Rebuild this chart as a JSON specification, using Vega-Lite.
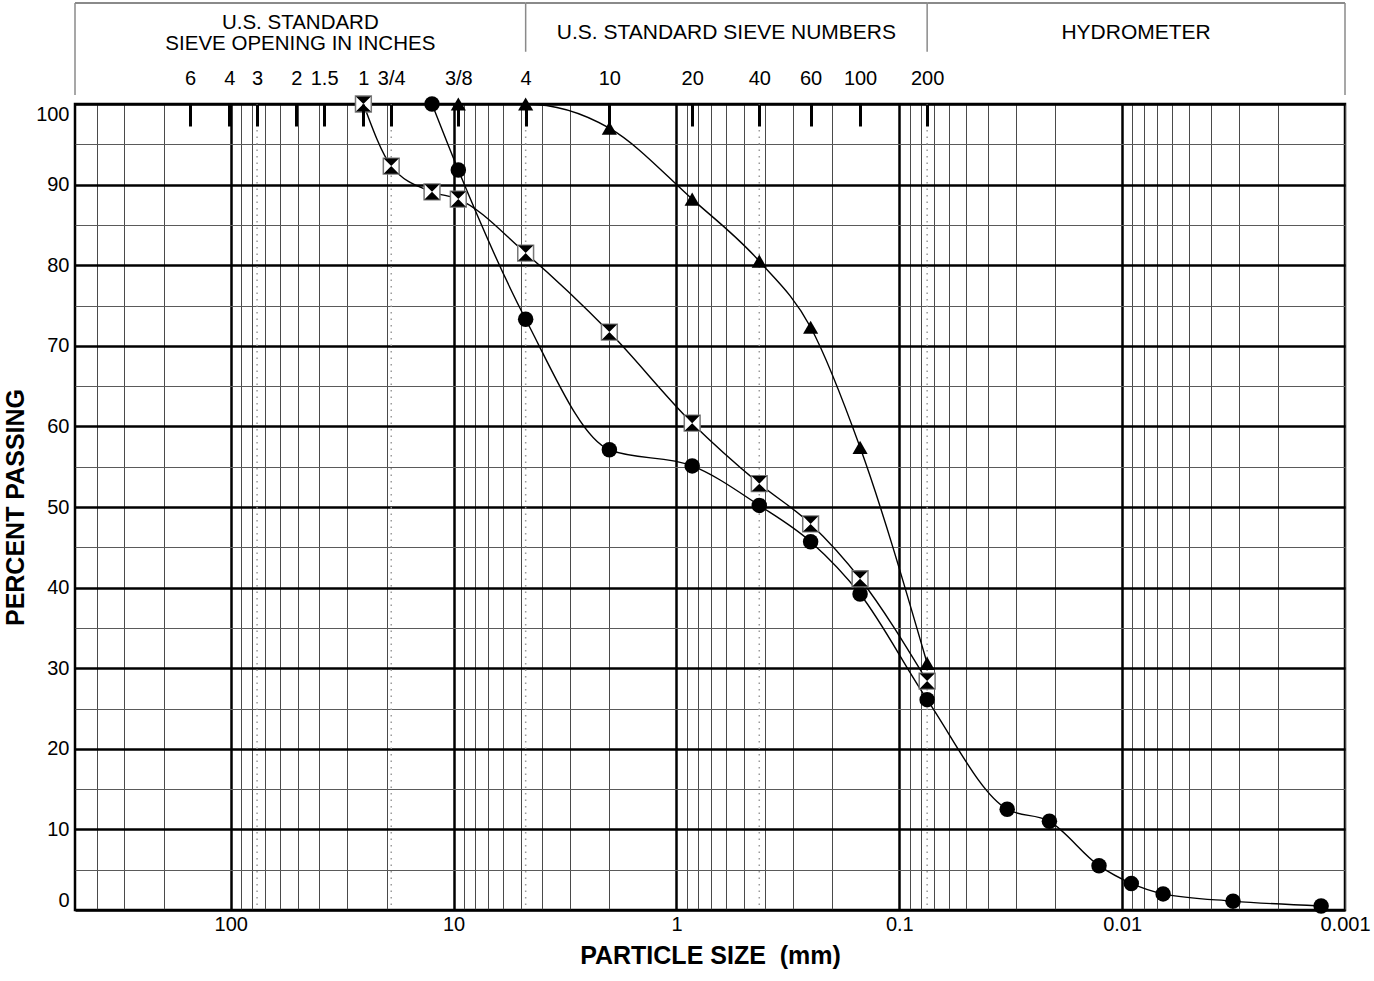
{
  "$schema": "https://vega.github.io/schema/vega-lite/v6.json",
  "background": "white",
  "padding": {"left": 2, "top": 2, "right": 5, "bottom": 5},
  "config": {"font": "Liberation Sans", "view": {"stroke": null}},
  "bounds": "flush",
  "spacing": 9,
  "datasets": {
    "series": [
      {"sample": "A", "size": 12.5, "pct": 100},
      {"sample": "A", "size": 9.525, "pct": 91.8},
      {"sample": "A", "size": 4.75, "pct": 73.3},
      {"sample": "A", "size": 2.0, "pct": 57.1},
      {"sample": "A", "size": 0.85, "pct": 55.1},
      {"sample": "A", "size": 0.425, "pct": 50.2},
      {"sample": "A", "size": 0.25, "pct": 45.7},
      {"sample": "A", "size": 0.15, "pct": 39.2},
      {"sample": "A", "size": 0.075, "pct": 26.1},
      {"sample": "A", "size": 0.0328, "pct": 12.5},
      {"sample": "A", "size": 0.0212, "pct": 11.0},
      {"sample": "A", "size": 0.0127, "pct": 5.5},
      {"sample": "A", "size": 0.0091, "pct": 3.3},
      {"sample": "A", "size": 0.00655, "pct": 2.0},
      {"sample": "A", "size": 0.00318, "pct": 1.1},
      {"sample": "A", "size": 0.00128, "pct": 0.5},
      {"sample": "B", "size": 25.4, "pct": 100},
      {"sample": "B", "size": 19.05, "pct": 92.3},
      {"sample": "B", "size": 12.5, "pct": 89.1},
      {"sample": "B", "size": 9.525, "pct": 88.2},
      {"sample": "B", "size": 4.75, "pct": 81.5},
      {"sample": "B", "size": 2.0, "pct": 71.7},
      {"sample": "B", "size": 0.85, "pct": 60.4},
      {"sample": "B", "size": 0.425, "pct": 52.9},
      {"sample": "B", "size": 0.25, "pct": 47.9},
      {"sample": "B", "size": 0.15, "pct": 41.1},
      {"sample": "B", "size": 0.075, "pct": 28.4},
      {"sample": "C", "size": 9.525, "pct": 100},
      {"sample": "C", "size": 4.75, "pct": 100},
      {"sample": "C", "size": 2.0, "pct": 97.0},
      {"sample": "C", "size": 0.85, "pct": 88.2},
      {"sample": "C", "size": 0.425, "pct": 80.5},
      {"sample": "C", "size": 0.25, "pct": 72.3},
      {"sample": "C", "size": 0.15, "pct": 57.4},
      {"sample": "C", "size": 0.075, "pct": 30.6}
    ],
    "boundaries": [
      {"size": 76.2}, {"size": 19.05}, {"size": 4.75}, {"size": 0.425}, {"size": 0.075}
    ],
    "header": [
      {"label": "U.S. STANDARD\nSIEVE OPENING IN INCHES", "start": 500, "end": 4.75, "lines": 2},
      {"label": "U.S. STANDARD SIEVE NUMBERS", "start": 4.75, "end": 0.075, "lines": 1},
      {"label": "HYDROMETER", "start": 0.075, "end": 0.001, "lines": 1}
    ],
    "dividers": [{"b": 4.75}, {"b": 0.075}],
    "edges": [{"b": 500}, {"b": 0.001}]
  },
  "vconcat": [
    {
      "width": 1270,
      "height": 92,
      "view": {"stroke": null},
      "layer": [
        {
          "data": {"name": "header"},
          "mark": {"type": "rule", "color": "#8a8a8a", "strokeWidth": 2},
          "encoding": {
            "x": {"field": "start", "type": "quantitative", "scale": {"type": "log", "domain": [0.001, 500], "reverse": true, "nice": false}, "axis": null},
            "x2": {"field": "end"},
            "y": {"datum": 1, "type": "quantitative", "scale": {"domain": [0, 1], "nice": false}, "axis": null}
          }
        },
        {
          "data": {"name": "dividers"},
          "mark": {"type": "rule", "color": "#8a8a8a", "strokeWidth": 1.5},
          "encoding": {
            "x": {"field": "b", "type": "quantitative", "scale": {"type": "log", "domain": [0.001, 500], "reverse": true, "nice": false}, "axis": null},
            "y": {"datum": 1, "type": "quantitative", "scale": {"domain": [0, 1], "nice": false}, "axis": null},
            "y2": {"datum": 0.47}
          }
        },
        {
          "data": {"name": "edges"},
          "mark": {"type": "rule", "color": "#8a8a8a", "strokeWidth": 1.5},
          "encoding": {
            "x": {"field": "b", "type": "quantitative", "scale": {"type": "log", "domain": [0.001, 500], "reverse": true, "nice": false}, "axis": null}
          }
        },
        {
          "data": {"name": "header"},
          "transform": [
            {"filter": "datum.lines === 1"},
            {"calculate": "sqrt(datum.start * datum.end)", "as": "mid"}
          ],
          "mark": {"type": "text", "fontSize": 21, "baseline": "middle", "align": "center", "color": "black"},
          "encoding": {
            "x": {"field": "mid", "type": "quantitative", "scale": {"type": "log", "domain": [0.001, 500], "reverse": true, "nice": false}, "axis": null},
            "y": {"datum": 0.67, "type": "quantitative", "scale": {"domain": [0, 1], "nice": false}, "axis": null},
            "text": {"field": "label"}
          }
        },
        {
          "data": {"name": "header"},
          "transform": [
            {"filter": "datum.lines === 2"},
            {"calculate": "sqrt(datum.start * datum.end)", "as": "mid"}
          ],
          "mark": {"type": "text", "fontSize": 20.5, "lineBreak": "\n", "lineHeight": 21, "baseline": "middle", "align": "center", "color": "black"},
          "encoding": {
            "x": {"field": "mid", "type": "quantitative", "scale": {"type": "log", "domain": [0.001, 500], "reverse": true, "nice": false}, "axis": null},
            "y": {"datum": 0.785, "type": "quantitative", "scale": {"domain": [0, 1], "nice": false}, "axis": null},
            "text": {"field": "label"}
          }
        }
      ]
    },
    {
      "width": 1270,
      "height": 806,
      "view": {"stroke": "black", "strokeWidth": 2.5},
      "resolve": {"axis": {"x": "independent", "y": "independent"}},
      "layer": [
        {
          "data": {"name": "boundaries"},
          "mark": {"type": "rule", "color": "#9a9a9a", "strokeWidth": 1.5, "strokeDash": [1.5, 5]},
          "encoding": {
            "x": {
              "field": "size", "type": "quantitative",
              "scale": {"type": "log", "domain": [0.001, 500], "reverse": true, "nice": false},
              "axis": {
                "orient": "top",
                "values": [152.4, 101.6, 76.2, 50.8, 38.1, 25.4, 19.05, 9.525, 4.75, 2, 0.85, 0.425, 0.25, 0.15, 0.075],
                "labelExpr": "['6','4','3','2','1.5','1','3/4','3/8','4','10','20','40','60','100','200'][indexof([152.4, 101.6, 76.2, 50.8, 38.1, 25.4, 19.05, 9.525, 4.75, 2, 0.85, 0.425, 0.25, 0.15, 0.075], datum.value)]",
                "grid": false, "domain": false, "ticks": true,
                "tickSize": -22, "tickWidth": 3, "tickColor": "black",
                "labelFontSize": 20, "labelColor": "black", "labelPadding": 38,
                "labelOverlap": false, "labelFlush": false, "title": null, "zindex": 1
              }
            }
          }
        },
        {
          "data": {"name": "series"},
          "mark": {"type": "line", "interpolate": "monotone", "color": "black", "strokeWidth": 1.4},
          "encoding": {
            "x": {
              "field": "size", "type": "quantitative",
              "scale": {"type": "log", "domain": [0.001, 500], "reverse": true, "nice": false},
              "axis": {
                "orient": "bottom",
                "values": [400, 300, 200, 100, 90, 80, 70, 60, 50, 40, 30, 20, 10, 9, 8, 7, 6, 5, 4, 3, 2, 1, 0.9, 0.8, 0.7, 0.6, 0.5, 0.4, 0.3, 0.2, 0.1, 0.09, 0.08, 0.07, 0.06, 0.05, 0.04, 0.03, 0.02, 0.01, 0.009, 0.008, 0.007, 0.006, 0.005, 0.004, 0.003, 0.002, 0.001],
                "grid": true,
                "gridColor": {"condition": {"test": "indexof([100, 10, 1, 0.1, 0.01], datum.value) >= 0", "value": "black"}, "value": "#4a4a4a"},
                "gridWidth": {"condition": {"test": "indexof([100, 10, 1, 0.1, 0.01], datum.value) >= 0", "value": 2.5}, "value": 1},
                "ticks": false, "domain": false,
                "labelExpr": "indexof([100, 10, 1, 0.1, 0.01, 0.001], datum.value) >= 0 ? format(datum.value, '~g') : ''",
                "labelFontSize": 20, "labelColor": "black", "labelPadding": 4,
                "labelOverlap": false, "labelFlush": false,
                "title": "PARTICLE SIZE\u00a0 (mm)", "titleFontSize": 25, "titleFontWeight": "bold",
                "titleColor": "black", "titlePadding": 9
              }
            },
            "y": {
              "field": "pct", "type": "quantitative",
              "scale": {"domain": [0, 100], "nice": false},
              "axis": {
                "orient": "left",
                "values": [0, 5, 10, 15, 20, 25, 30, 35, 40, 45, 50, 55, 60, 65, 70, 75, 80, 85, 90, 95, 100],
                "grid": true,
                "gridColor": {"condition": {"test": "datum.value % 10 === 0", "value": "black"}, "value": "#5a5a5a"},
                "gridWidth": {"condition": {"test": "datum.value % 10 === 0", "value": 2.5}, "value": 1},
                "ticks": false, "domain": false,
                "labelExpr": "datum.value % 10 === 0 ? datum.label : ''",
                "labelFlush": true, "labelFontSize": 20, "labelColor": "black", "labelPadding": 6,
                "title": "PERCENT PASSING", "titleFontSize": 25, "titleFontWeight": "bold",
                "titleColor": "black", "titlePadding": 7
              }
            },
            "detail": {"field": "sample"}
          }
        },
        {
          "data": {"name": "series"},
          "transform": [{"filter": "datum.sample === 'A'"}],
          "mark": {"type": "point", "shape": "circle", "filled": true, "color": "black", "size": 240, "opacity": 1},
          "encoding": {
            "x": {"field": "size", "type": "quantitative", "scale": {"type": "log", "domain": [0.001, 500], "reverse": true, "nice": false}, "axis": null},
            "y": {"field": "pct", "type": "quantitative", "scale": {"domain": [0, 100], "nice": false}, "axis": null}
          }
        },
        {
          "data": {"name": "series"},
          "transform": [{"filter": "datum.sample === 'C'"}],
          "mark": {"type": "point", "shape": "triangle-up", "filled": true, "color": "black", "size": 230, "opacity": 1},
          "encoding": {
            "x": {"field": "size", "type": "quantitative", "scale": {"type": "log", "domain": [0.001, 500], "reverse": true, "nice": false}, "axis": null},
            "y": {"field": "pct", "type": "quantitative", "scale": {"domain": [0, 100], "nice": false}, "axis": null}
          }
        },
        {
          "data": {"name": "series"},
          "transform": [{"filter": "datum.sample === 'B'"}],
          "mark": {"type": "point", "shape": "square", "filled": true, "fill": "white", "stroke": "#777777", "strokeWidth": 1.5, "size": 250, "opacity": 1},
          "encoding": {
            "x": {"field": "size", "type": "quantitative", "scale": {"type": "log", "domain": [0.001, 500], "reverse": true, "nice": false}, "axis": null},
            "y": {"field": "pct", "type": "quantitative", "scale": {"domain": [0, 100], "nice": false}, "axis": null}
          }
        },
        {
          "data": {"name": "series"},
          "transform": [{"filter": "datum.sample === 'B'"}],
          "mark": {"type": "point", "shape": "M-1,-1L1,-1L0,0Z M-1,1L1,1L0,0Z", "filled": true, "color": "black", "size": 230, "opacity": 1},
          "encoding": {
            "x": {"field": "size", "type": "quantitative", "scale": {"type": "log", "domain": [0.001, 500], "reverse": true, "nice": false}, "axis": null},
            "y": {"field": "pct", "type": "quantitative", "scale": {"domain": [0, 100], "nice": false}, "axis": null}
          }
        }
      ]
    }
  ]
}
